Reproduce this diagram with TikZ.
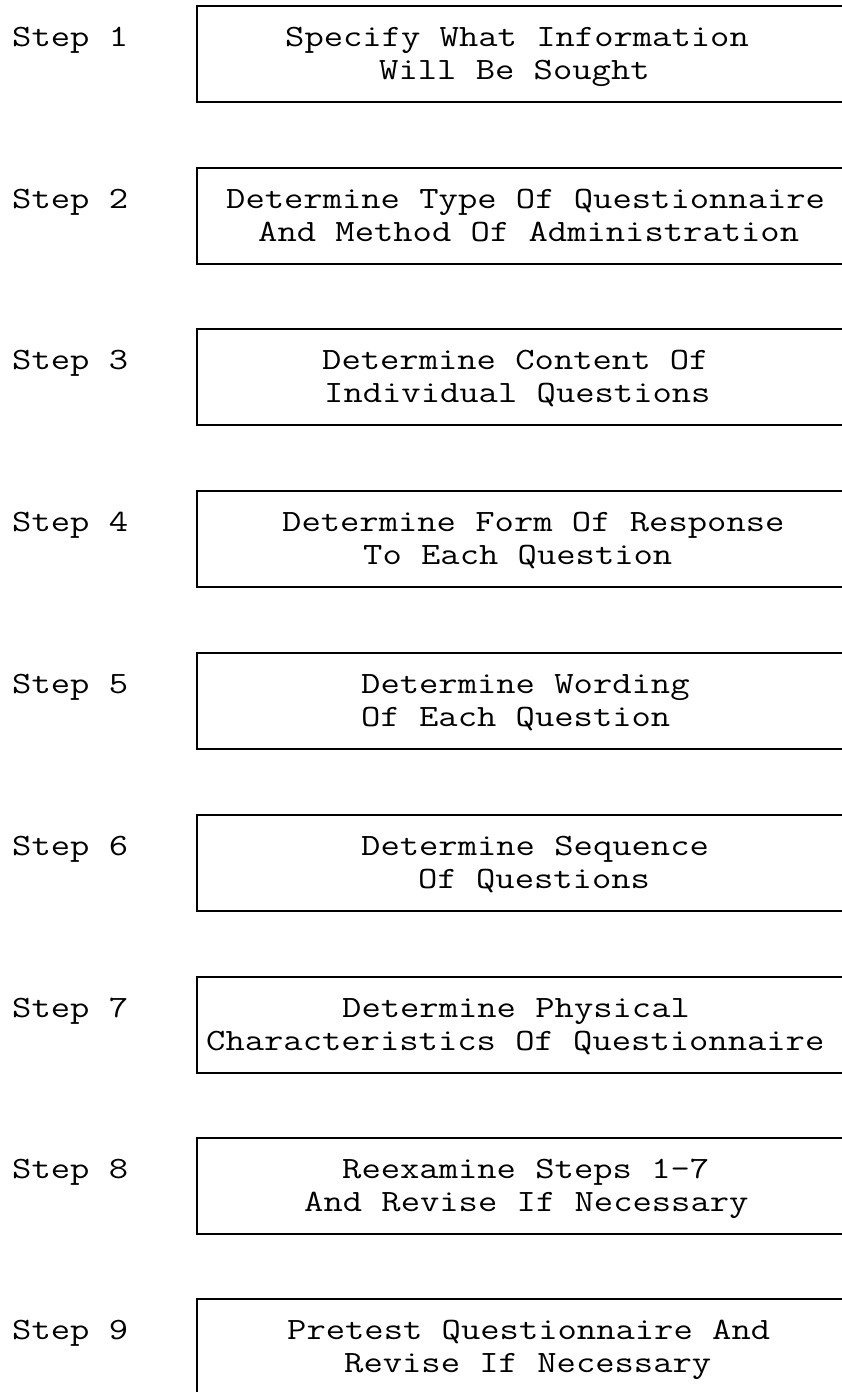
\documentclass[tikz,border=0pt]{standalone}
\usepackage{fontspec}
% typewriter face, widened so each character takes about 19.3pt
\newcommand{\tw}[1]{\scalebox{1.21}[1]{#1}}
\tikzset{
  stepbox/.style={draw=black, line width=1.8pt, rectangle, anchor=north west,
    minimum width=700pt, minimum height=96pt, inner sep=0pt},
  steplabel/.style={anchor=base west, inner sep=0pt, font=\ttfamily\fontsize{31}{33}\selectfont},
  boxline/.style={anchor=base west, inner sep=0pt, font=\ttfamily\fontsize{31}{33}\selectfont}
}
\begin{document}
\begin{tikzpicture}[x=1pt,y=-1pt]
  \useasboundingbox (0,0) rectangle (842,1392);
  \clip (0,0) rectangle (842,1392);
  \fill[white] (0,0) rectangle (842,1392);
  % one row per step: number / top of box / first line x / first line / second line x / second line
  \foreach \i/\t/\xa/\la/\xb/\lb in {
    1/5/285/Specify What Information/379/Will Be Sought,
    2/167/226/Determine Type Of Questionnaire/258/And Method Of Administration,
    3/328/322/Determine Content Of/324/Individual Questions,
    4/490/282/Determine Form Of Response/363/To Each Question,
    5/652/361/Determine Wording/361/Of Each Question,
    6/814/361/Determine Sequence/418/Of Questions,
    7/976/342/Determine Physical/206/Characteristics Of Questionnaire,
    8/1137/342/Reexamine Steps 1-7/304/And Revise If Necessary,
    9/1298/287/Pretest Questionnaire And/344/Revise If Necessary}{
    \node[stepbox] (box\i) at (196,\t) {};
    \node[steplabel] (label\i) at (12,\t+41) {\tw{Step \i}};
    \node[boxline] (text\i a) at (\xa,\t+41) {\tw{\la}};
    \node[boxline] (text\i b) at (\xb,\t+74) {\tw{\lb}};
  }
\end{tikzpicture}
\end{document}
